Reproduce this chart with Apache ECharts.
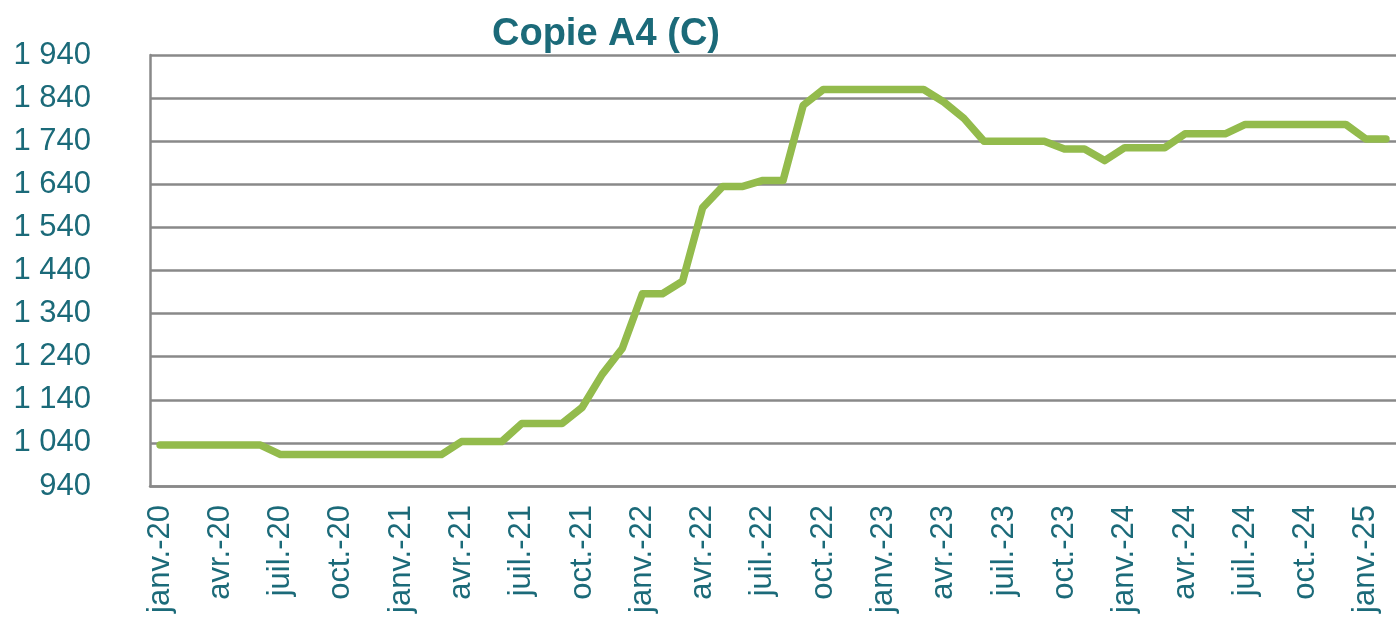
<!DOCTYPE html>
<html>
<head>
<meta charset="utf-8">
<script src="https://cdn.jsdelivr.net/npm/echarts@6/dist/echarts.min.js"></script>
<style>
html,body{margin:0;padding:0;background:#fff;}
#main{width:1396px;height:626px;}
</style>
</head>
<body>
<div id="main"></div>
<script>
// mois, janv.-20 -> févr.-25
var monthNames = ["janv.", "févr.", "mars", "avr.", "mai", "juin", "juil.", "août", "sept.", "oct.", "nov.", "déc."];
var years = ["20", "21", "22", "23", "24", "25"];
var months = [];
for (var y = 0; y < years.length; y++) {
	for (var m = 0; m < 12; m++) {
		months.push(monthNames[m] + "-" + years[y]);
	}
}
months = months.slice(0, 62);

// indice Copie A4 (C)
var copieA4 = [
	1035, 1035, 1035, 1035, 1035, 1035, 1013, 1013, 1013, 1013, 1013, 1013,
	1013, 1013, 1013, 1043, 1043, 1043, 1085, 1085, 1085, 1122, 1199, 1259,
	1386, 1386, 1415, 1586, 1635, 1635, 1649, 1649, 1823, 1860, 1860, 1860,
	1860, 1860, 1860, 1831, 1793, 1740, 1740, 1740, 1740, 1722, 1722, 1695,
	1725, 1725, 1725, 1757, 1757, 1757, 1779, 1779, 1779, 1779, 1779, 1779,
	1745, 1745
];

var yTicks = [940, 1940, 100]; // min, max, pas

var teal = "#1b6a79";
var grey = "#898989";

var myChart = echarts.init(document.getElementById("main"));
var option = {
	backgroundColor: "#fff",
	animation: false,
	title: {
		text: "Copie A4 (C)",
		left: 601,
		top: 11,
		textAlign: "center",
		textStyle: {color: teal, fontSize: 38, fontWeight: "bold", fontFamily: "Arial, 'Liberation Sans'"}
	},
	grid: {left: 150, top: 55, bottom: 140, right: -8, containLabel: false},
	xAxis: {
		type: "category",
		data: months,
		boundaryGap: true,
		axisLine: {lineStyle: {color: grey, width: 2.5}},
		axisTick: {show: false},
		axisLabel: {
			interval: 2,
			rotate: 90,
			margin: 19,
			color: teal,
			fontSize: 31,
			fontFamily: "Arial, 'Liberation Sans'"
		},
		splitLine: {show: false}
	},
	yAxis: {
		type: "value",
		min: yTicks[0],
		max: yTicks[1],
		interval: yTicks[2],
		axisLine: {show: true, lineStyle: {color: grey, width: 2.5}},
		axisTick: {show: false},
		axisLabel: {
			margin: 59,
			color: teal,
			fontSize: 31,
			fontFamily: "Arial, 'Liberation Sans'",
			formatter: function(v) {
				return String(v).replace(/\B(?=(\d{3})+(?!\d))/g, " ");
			}
		},
		splitLine: {lineStyle: {color: grey, width: 2.5}}
	},
	series: [{
		name: "Copie A4 (C)",
		type: "line",
		data: copieA4,
		symbol: "none",
		smooth: false,
		lineStyle: {color: "#93bb4c", width: 7.5, cap: "round", join: "round"}
	}]
};
myChart.setOption(option);
</script>
</body>
</html>
